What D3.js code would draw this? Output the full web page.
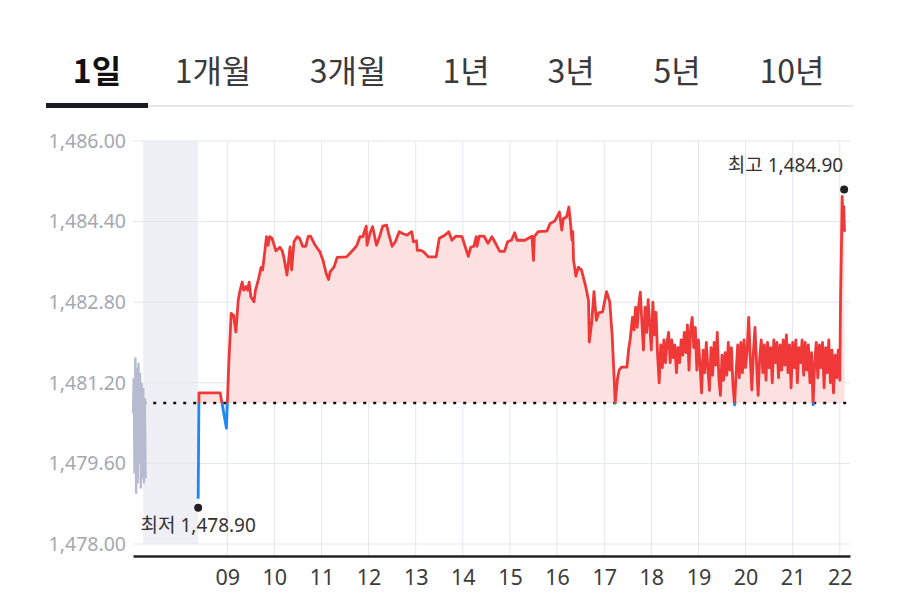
<!DOCTYPE html>
<html>
<head>
<meta charset="utf-8">
<script src="https://cdn.jsdelivr.net/npm/d3@7"></script>
<style>
  body { margin: 0; background: #fff; }
  text { font-family: "Noto Sans", "Noto Sans CJK KR", sans-serif; }
</style>
</head>
<body>
<div id="chart"></div>
<script>
// Data

var tabs = ["1일", "1개월", "3개월", "1년", "3년", "5년", "10년"];
var activeTab = "1일";
var yTicks = [1478.00, 1479.60, 1481.20, 1482.80, 1484.40, 1486.00];
var hourTicks = ["09", "10", "11", "12", "13", "14", "15", "16", "17", "18", "19", "20", "21", "22"];
var prevClose = 1480.80;
var lowPoint = {time: "08:23", value: 1478.90, label: "최저 1,478.90"};
var highPoint = {time: "22:03", value: 1484.90, label: "최고 1,484.90"};
var closedStart = "07:13", closedEnd = "08:23";

// earlier squeezed session (grey)
var preTimes = ["07:00","07:01","07:02","07:03","07:04","07:05","07:06","07:07","07:08",
  "07:09","07:10","07:11","07:12","07:13","07:14","07:15","07:16"];
var preValues = [1480.60, 1481.30, 1479.40, 1481.70, 1479.00, 1481.50, 1479.20, 1481.60, 1479.60,
  1481.40, 1479.10, 1481.20, 1479.30, 1481.10, 1479.20, 1480.90, 1479.30];

var times = [
  "08:23","08:24","08:51","08:59","09:02","09:05","09:08","09:11","09:14","09:16",
  "09:19","09:21","09:24","09:26","09:28","09:30","09:34","09:36","09:40","09:43",
  "09:45","09:48","09:50","09:52","09:54","09:57","09:59","10:02","10:07","10:10",
  "10:12","10:16","10:18","10:20","10:22","10:25","10:29","10:32","10:36","10:40",
  "10:43","10:46","10:52","10:58","11:02","11:06","11:09","11:11","11:16","11:20",
  "11:32","11:41","11:45","11:49","11:53","11:54","11:57","11:58","12:02","12:05",
  "12:07","12:10","12:14","12:18","12:23","12:26","12:30","12:34","12:39","12:44",
  "12:49","12:53","12:55","12:57","13:01","13:02","13:06","13:10","13:16","13:26",
  "13:30","13:37","13:42","13:46","13:51","13:59","14:03","14:07","14:10","14:14",
  "14:17","14:18","14:21","14:27","14:32","14:37","14:43","14:47","14:53","14:57",
  "15:02","15:06","15:09","15:19","15:28","15:30","15:31","15:36","15:47","15:51",
  "15:57","16:03","16:06","16:08","16:12","16:15","16:17","16:19","16:20","16:21",
  "16:24","16:27","16:31","16:36","16:40","16:41","16:44","16:47","16:50","16:53",
  "16:58","17:03","17:07","17:10","17:12","17:14","17:17","17:19","17:22","17:29",
  "17:31","17:33",
  "17:36","17:38","17:40","17:42","17:44","17:46","17:48","17:50","17:52","17:54",
  "17:56","17:58","18:00","18:02","18:04","18:06","18:08","18:10","18:12","18:14",
  "18:16","18:18","18:20","18:22","18:24","18:26","18:28","18:30","18:32","18:34",
  "18:36","18:38","18:40","18:42","18:44","18:46","18:48","18:50","18:52","18:54",
  "18:56","18:58","19:00","19:02","19:04","19:06","19:08","19:10","19:12","19:14",
  "19:16","19:18","19:20","19:22","19:24","19:26","19:28","19:30","19:32","19:34",
  "19:36","19:38","19:40","19:42","19:44","19:46","19:48","19:50","19:52","19:54",
  "19:56","19:58","20:00","20:02","20:04","20:06","20:08","20:10","20:12","20:14",
  "20:16","20:18","20:20","20:22","20:24","20:26","20:28","20:30","20:32","20:34",
  "20:36","20:38","20:40","20:42","20:44","20:46","20:48","20:50","20:52","20:54",
  "20:56","20:58","21:00","21:02","21:04","21:06","21:08","21:10","21:12","21:14",
  "21:16","21:18","21:20","21:22","21:24","21:26","21:28","21:30","21:32","21:34",
  "21:36","21:38","21:40","21:42","21:44","21:46","21:48","21:50","21:52","21:54",
  "21:56","21:58","22:00","22:01","22:02","22:03","22:04","22:05","22:06"
];
var values = [
  1478.90, 1481.00, 1481.00, 1480.30, 1481.59, 1482.58, 1482.54, 1482.21, 1482.84, 1483.01,
  1483.20, 1483.04, 1483.11, 1483.04, 1483.20, 1482.91, 1482.81, 1483.04, 1483.27, 1483.49,
  1483.44, 1483.83, 1484.10, 1483.93, 1484.10, 1484.07, 1483.97, 1483.82, 1483.89, 1483.82,
  1483.70, 1483.34, 1483.60, 1483.90, 1483.44, 1484.00, 1484.10, 1484.07, 1483.91, 1483.91,
  1484.10, 1484.11, 1483.93, 1483.80, 1483.63, 1483.37, 1483.25, 1483.40, 1483.50, 1483.69,
  1483.70, 1483.85, 1483.93, 1484.10, 1484.10, 1484.18, 1484.31, 1483.93, 1484.18, 1484.30,
  1484.16, 1483.93, 1484.10, 1484.31, 1484.33, 1484.13, 1483.91, 1484.00, 1484.20, 1484.16,
  1484.13, 1484.18, 1484.20, 1484.00, 1484.02, 1483.83, 1483.83, 1483.80, 1483.70, 1483.70,
  1484.07, 1484.13, 1484.20, 1484.03, 1484.11, 1484.10, 1483.90, 1483.71, 1483.89, 1483.91,
  1484.10, 1483.91, 1484.11, 1484.11, 1483.97, 1484.10, 1483.93, 1483.81, 1483.81, 1484.00,
  1484.03, 1484.18, 1484.03, 1484.03, 1484.11, 1483.63, 1484.10, 1484.20, 1484.21, 1484.36,
  1484.41, 1484.59, 1484.23, 1484.46, 1484.49, 1484.69, 1484.39, 1484.03, 1484.20, 1483.63,
  1483.32, 1483.49, 1483.44, 1483.14, 1482.84, 1482.01, 1482.38, 1483.01, 1482.44, 1482.59,
  1482.61, 1483.01, 1482.81, 1482.18, 1481.52, 1480.80, 1481.29, 1481.45, 1481.51, 1481.51,
  1481.85, 1482.05,
  1482.50, 1482.25, 1482.70, 1482.30, 1482.75, 1483.00, 1482.40, 1481.85, 1482.70, 1482.20,
  1482.85, 1482.35, 1481.85, 1482.80, 1482.15, 1482.60, 1481.75, 1481.20, 1481.95, 1481.50,
  1482.05, 1481.60, 1482.00, 1482.20, 1481.60, 1482.05, 1481.70, 1481.95, 1481.40, 1481.90,
  1481.60, 1482.05, 1481.75, 1482.20, 1481.80, 1482.35, 1481.45, 1482.25, 1482.50, 1481.90,
  1482.30, 1481.45, 1482.05, 1481.55, 1481.00, 1481.85, 1481.40, 1482.00, 1481.50, 1481.05,
  1481.90, 1481.35, 1482.00, 1481.55, 1482.20, 1481.30, 1480.95, 1481.75, 1481.25, 1481.80,
  1481.35, 1482.00, 1481.45, 1481.90, 1481.15, 1480.76, 1481.40, 1481.95, 1481.30, 1482.00,
  1481.40, 1482.05, 1481.50, 1481.85, 1482.50, 1481.70, 1481.06, 1481.80, 1482.30, 1481.60,
  1480.95, 1481.70, 1482.05, 1481.40, 1481.95, 1481.25, 1482.00, 1481.50, 1481.90, 1481.20,
  1482.05, 1481.60, 1482.00, 1481.30, 1481.95, 1481.45, 1482.05, 1481.55, 1482.15, 1481.40,
  1481.95, 1481.10, 1482.00, 1481.50, 1482.05, 1481.20, 1481.90, 1481.60, 1482.05, 1481.35,
  1482.00, 1481.45, 1481.95, 1481.20, 1481.80, 1480.76, 1481.60, 1482.00, 1481.30, 1481.95,
  1481.50, 1482.00, 1481.10, 1481.90, 1481.40, 1482.05, 1481.20, 1481.85, 1481.00, 1481.75,
  1481.30, 1481.85, 1481.25, 1482.90, 1483.80, 1484.90, 1484.40, 1484.70, 1484.20
];

// Setup

var W = 900, H = 615;
var plot = {left: 133, right: 850, top: 141, bottom: 544, axisY: 556};
var parseTime = d3.timeParse("%H:%M");

var svg = d3.select("#chart")
    .append("svg")
    .attr("width", W)
    .attr("height", H);

// Tabs

var tabX = [97, 213, 348, 466, 571, 677, 792];
svg.append("rect")
    .attr("x", 46).attr("y", 105)
    .attr("width", 807).attr("height", 2)
    .attr("fill", "#e6e6e8");
svg.append("rect")
    .attr("x", 46).attr("y", 103)
    .attr("width", 102).attr("height", 5)
    .attr("fill", "#1b1b22");

svg.selectAll(".tab")
    .data(tabs)
    .enter().append("text")
    .attr("class", "tab")
    .attr("x", function(d, i) { return tabX[i]; })
    .attr("y", 83)
    .attr("text-anchor", "middle")
    .style("font-family", '"Noto Sans CJK KR", sans-serif')
    .style("font-size", "32px")
    .style("font-weight", function(d) { return d === activeTab ? 700 : 400; })
    .attr("fill", function(d) { return d === activeTab ? "#111" : "#3a3a3c"; })
    .text(function(d) { return d; });

// Scales

var xScale = d3.scaleTime()
    .domain([parseTime("07:00"), parseTime("22:13")])
    .range([plot.left, plot.right]);

var yScale = d3.scaleLinear()
    .domain([1478, 1486])
    .range([plot.bottom, plot.top]);

var series = times.map(function(t, i) { return {t: parseTime(t), v: values[i]}; });
var preSeries = preTimes.map(function(t, i) { return {t: parseTime(t), v: preValues[i]}; });
var hourDates = hourTicks.map(function(h) { return parseTime(h + ":00"); });
var baseY = yScale(prevClose);

// closed-market shading

svg.append("rect")
    .attr("x", xScale(parseTime(closedStart)))
    .attr("y", plot.top)
    .attr("width", xScale(parseTime(closedEnd)) - xScale(parseTime(closedStart)))
    .attr("height", plot.bottom - plot.top)
    .attr("fill", "#eff0f5");

// Gridlines

svg.append("g")
    .selectAll("line")
    .data(yTicks)
    .enter().append("line")
    .attr("x1", plot.left).attr("x2", plot.right)
    .attr("y1", function(d) { return yScale(d); })
    .attr("y2", function(d) { return yScale(d); })
    .attr("stroke", "#e4e6ee")
    .attr("stroke-width", 1);

svg.append("g")
    .selectAll("line")
    .data(hourDates)
    .enter().append("line")
    .attr("x1", function(d) { return xScale(d); })
    .attr("x2", function(d) { return xScale(d); })
    .attr("y1", plot.top).attr("y2", plot.axisY)
    .attr("stroke", "#e4e6ee")
    .attr("stroke-width", 1);

// Axes

var yAxis = svg.append("g")
    .attr("transform", `translate(${plot.left}, 0)`)
    .call(d3.axisLeft(yScale)
      .tickValues(yTicks)
      .tickFormat(d3.format(",.2f"))
      .tickSize(0)
      .tickPadding(7));
yAxis.select(".domain").remove();
yAxis.selectAll("text")
    .style("font-size", "19.5px")
    .attr("fill", "#a4a8b2");

var xAxis = svg.append("g")
    .attr("transform", `translate(0, ${plot.axisY})`)
    .call(d3.axisBottom(xScale)
      .tickValues(hourDates)
      .tickFormat(d3.timeFormat("%H"))
      .tickSize(0)
      .tickSizeOuter(0)
      .tickPadding(14));
xAxis.select(".domain")
    .attr("stroke", "#222")
    .attr("stroke-width", 2.5);
xAxis.selectAll("text")
    .style("font-size", "21.5px")
    .attr("fill", "#3c3c3c");

// Clip areas above / below previous close

var defs = svg.append("defs");
defs.append("clipPath").attr("id", "clipUp")
    .append("rect")
    .attr("x", 0).attr("y", 0)
    .attr("width", W).attr("height", baseY);
defs.append("clipPath").attr("id", "clipDown")
    .append("rect")
    .attr("x", 0).attr("y", baseY)
    .attr("width", W).attr("height", H - baseY);

var area = d3.area()
    .x(function(d) { return xScale(d.t); })
    .y0(baseY)
    .y1(function(d) { return yScale(d.v); });

var line = d3.line()
    .x(function(d) { return xScale(d.t); })
    .y(function(d) { return yScale(d.v); });

svg.append("path")
    .datum(series)
    .attr("d", area)
    .attr("fill", "#fde1e1")
    .attr("clip-path", "url(#clipUp)");

svg.append("path")
    .datum(series)
    .attr("d", area)
    .attr("fill", "#dfeafc")
    .attr("clip-path", "url(#clipDown)");

// previous close dotted line

svg.append("line")
    .attr("x1", xScale(parseTime(closedStart)))
    .attr("x2", plot.right)
    .attr("y1", baseY).attr("y2", baseY)
    .attr("stroke", "#111")
    .attr("stroke-width", 2.5)
    .attr("stroke-dasharray", "3,7");

// grey earlier session

svg.append("path")
    .datum(preSeries)
    .attr("d", line)
    .attr("fill", "none")
    .attr("stroke", "#b6bbd0")
    .attr("stroke-width", 2.4);

// price line

svg.append("path")
    .datum(series)
    .attr("d", line)
    .attr("fill", "none")
    .attr("stroke", "#ef3838")
    .attr("stroke-width", 2.8)
    .attr("stroke-linejoin", "round")
    .attr("clip-path", "url(#clipUp)");

svg.append("path")
    .datum(series)
    .attr("d", line)
    .attr("fill", "none")
    .attr("stroke", "#1e88f5")
    .attr("stroke-width", 2.8)
    .attr("stroke-linejoin", "round")
    .attr("clip-path", "url(#clipDown)");

// Low / high labels

var lx = xScale(parseTime(lowPoint.time)), ly = yScale(lowPoint.value);
svg.append("circle")
    .attr("cx", lx).attr("cy", ly + 9)
    .attr("r", 4)
    .attr("fill", "#222");
svg.append("text")
    .attr("x", lx).attr("y", ly + 33)
    .attr("text-anchor", "middle")
    .style("font-size", "19px")
    .attr("fill", "#333")
    .text(lowPoint.label);

var hx = xScale(parseTime(highPoint.time)), hy = yScale(highPoint.value);
svg.append("circle")
    .attr("cx", hx + 2).attr("cy", hy - 7)
    .attr("r", 4)
    .attr("fill", "#222");
svg.append("text")
    .attr("x", hx + 1).attr("y", hy - 24)
    .attr("text-anchor", "end")
    .style("font-size", "19px")
    .attr("fill", "#333")
    .text(highPoint.label);
</script>
</body>
</html>
